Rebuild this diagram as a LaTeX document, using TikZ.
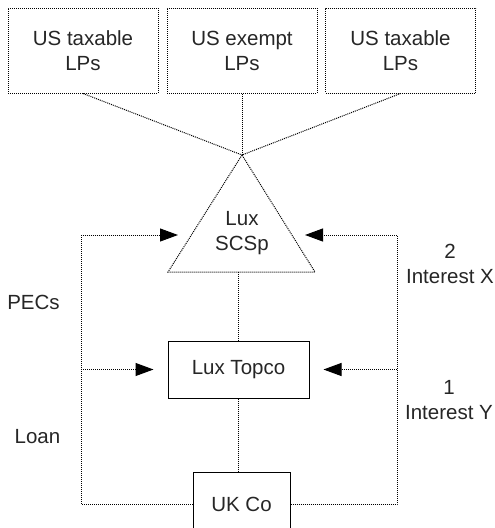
\documentclass[tikz,border=0pt]{standalone}
\usepackage{fontspec}
\setmainfont{Liberation Sans}
\usetikzlibrary{arrows.meta, positioning}

\tikzset{
    dots/.style={dash pattern=on 1pt off 1pt},
    fund/.style={draw, dots, minimum width=150pt, minimum height=85pt, align=center},
    entity/.style={draw, solid, minimum width=141pt, minimum height=57pt},
    flow/.style={dots, -{Triangle[length=18pt, width=13pt]}}
}

\begin{document}
\begin{tikzpicture}[x=1pt, y=-1pt, line width=1pt, font=\fontsize{20.5}{25}\selectfont, text=black!85]
    \useasboundingbox (0,0) rectangle (495,528);
    % investors
    \node[fund] (lp1) at (83, 50.5) {US taxable\\LPs};
    \node[fund] (lp2) at (242, 50.5) {US exempt\\LPs};
    \node[fund] (lp3) at (400.5, 50.5) {US taxable\\LPs};

    % partnership
    \coordinate (apex) at (242, 155);
    \coordinate (bl) at (168, 272);
    \coordinate (br) at (315, 272);
    \draw[dots] (apex) -- (bl) -- (br) -- cycle;
    \node[align=center] (scsp) at (242, 233) {Lux\\SCSp};
    \foreach \n in {lp1, lp2, lp3}
        \draw[dots] (\n.south) -- (apex);

    \node[entity] (topco) at (238.5, 369.5) {Lux Topco};
    \node[entity, minimum width=97pt, minimum height=64pt] (ukco) at (241.5, 504) {UK Co};
    \draw[dots] (topco.north) -- (topco.north |- bl);
    \draw[dots] (topco.south) -- (topco.south |- ukco.north);

    % funding loops
    \coordinate (lft) at (81, 235);
    \coordinate (rgt) at (397, 235);
    \coordinate (inL) at (178, 235);
    \coordinate (inR) at (305, 235);
    \draw[flow] (ukco.west) -| (lft) -- (inL);
    \draw[flow] (ukco.east) -| (rgt) -- (inR);
    \draw[flow, shorten >=14pt] (lft |- topco.west) -- (topco.west);
    \draw[flow, shorten >=14pt] (rgt |- topco.east) -- (topco.east);

    \node (pecs) at (33.5, 302.5) {PECs};
    \node (loan) at (37.5, 437) {Loan};
    \node[align=center] (intx) at (450, 264) {2\\Interest X};
    \node[align=center] (inty) at (449, 400) {1\\Interest Y};
\end{tikzpicture}
\end{document}
